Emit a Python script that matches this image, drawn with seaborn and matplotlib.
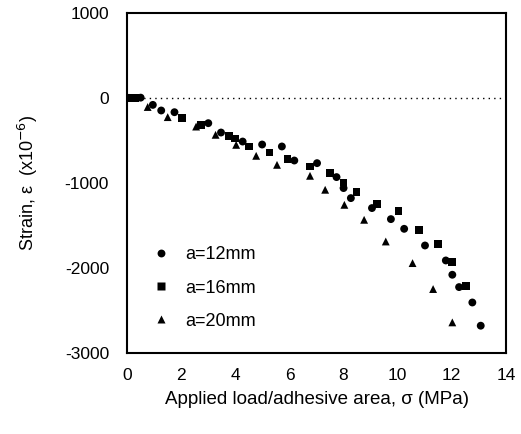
import matplotlib
matplotlib.use('Agg')
import matplotlib.pyplot as plt
import seaborn as sns
import numpy as np
import pandas as pd

# dane (sigma w MPa, odksztalcenie w 1e-6)
x12 = [0.0, 0.5, 0.95, 1.26, 1.75, 3.0, 3.47, 4.27, 4.99, 5.72, 6.18, 7.02, 7.74, 8.0,
       8.27, 9.05, 9.75, 10.24, 11.01, 11.78, 12.02, 12.27, 12.76, 13.07]
y12 = [0, 0, -85, -151, -171, -300, -410, -516, -551, -574, -739, -770, -934, -1063,
       -1181, -1298, -1428, -1542, -1738, -1914, -2082, -2227, -2408, -2681]

x16 = [0.0, 0.3, 2.04, 2.74, 3.78, 4.0, 4.5, 5.26, 5.93, 6.76, 7.51, 8.0, 8.48, 9.25,
       10.03, 10.79, 11.5, 12.02, 12.54]
y16 = [0, 0, -241, -320, -449, -480, -574, -645, -723, -809, -887, -997, -1110, -1248,
       -1330, -1553, -1722, -1937, -2211]

x20 = [0.1, 0.76, 1.5, 2.55, 3.27, 4.03, 4.77, 5.54, 6.76, 7.32, 8.03, 8.76, 9.56,
       10.55, 11.31, 12.02]
y20 = [0, -110, -229, -340, -437, -555, -684, -790, -919, -1083, -1260, -1436, -1691,
       -1945, -2250, -2642]

labels = ['a=12mm', 'a=16mm', 'a=20mm']
x_ticks = np.arange(0, 15, 2)
y_ticks = np.arange(-3000, 1001, 1000)

data = pd.concat([
    pd.DataFrame({'sigma': x12, 'strain': y12, 'size': labels[0]}),
    pd.DataFrame({'sigma': x16, 'strain': y16, 'size': labels[1]}),
    pd.DataFrame({'sigma': x20, 'strain': y20, 'size': labels[2]}),
])

sns.set_style('white')
plt.rcParams['font.family'] = ['Liberation Sans', 'DejaVu Sans']
plt.rcParams['axes.unicode_minus'] = False
plt.rcParams['text.color'] = 'black'
plt.rcParams['axes.labelcolor'] = 'black'

fig = plt.figure(figsize=(5.21, 4.34), dpi=100)
ax = fig.add_axes([0.244, 0.187, 0.727, 0.784])

ax.axhline(0, color='black', linestyle=(0, (1, 3)), linewidth=1)

sns.scatterplot(data=data, x='sigma', y='strain', style='size', hue='size',
                palette=['black'] * 3, markers={labels[0]: 'o', labels[1]: 's', labels[2]: '^'},
                s=32, edgecolor='none', ax=ax)

ax.set_xlim(0, 14)
ax.set_ylim(-3000, 1000)
ax.set_xticks(x_ticks)
ax.set_yticks(y_ticks)
ax.tick_params(direction='in', length=4, width=1, labelsize=12.5, colors='black')
ax.tick_params(axis='x', pad=11)
ax.tick_params(axis='y', pad=13)
for s in ax.spines.values():
    s.set_color('black')
    s.set_linewidth(1.5)

ax.set_xlabel('Applied load/adhesive area, σ (MPa)', fontsize=13.5, labelpad=6)
ax.set_ylabel('Strain, ε  (x10$^{-6}$)', fontsize=13, labelpad=18)

leg = ax.legend(loc='lower left', frameon=False, fontsize=13, handletextpad=0.3,
                bbox_to_anchor=(0.0, 0.02), labelspacing=0.9)

fig.savefig('out.png', dpi=100)
